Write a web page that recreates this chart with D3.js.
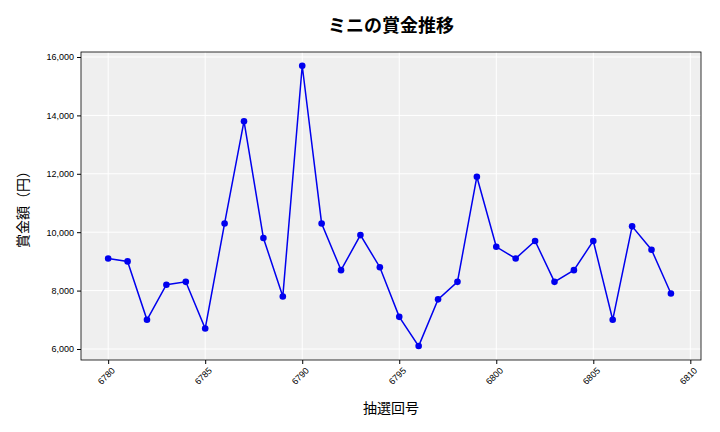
<!DOCTYPE html>
<html lang="ja">
<head>
<meta charset="UTF-8" />
<script src="https://d3js.org/d3.v7.min.js"></script>
<style>
  body { margin: 0; background: #fff; font-family: "Noto Sans CJK JP", "Noto Sans", sans-serif; }
</style>
</head>
<body>
<svg width="720" height="432"></svg>
<script>
  var draws = d3.range(6780, 6810);
  var prizes = [9100, 9000, 7000, 8200, 8300, 6700, 10300, 13800, 9800, 7800,
                15700, 10300, 8700, 9900, 8800, 7100, 6100, 7700, 8300, 11900,
                9500, 9100, 9700, 8300, 8700, 9700, 7000, 10200, 9400, 7900];
  var xTicks = [6780, 6785, 6790, 6795, 6800, 6805, 6810];
  var yTicks = [6000, 8000, 10000, 12000, 14000, 16000];

  var pLeft = 81, pRight = 701, pTop = 52, pBottom = 360;
  var svg = d3.select('svg');

  var x = d3.scaleLinear().domain([6778.6, 6810.55]).range([pLeft, pRight]);
  var y = d3.scaleLinear().domain([5623, 16171]).range([pBottom, pTop]);

  svg.append('rect').attr('x', pLeft).attr('y', pTop)
    .attr('width', pRight - pLeft).attr('height', pBottom - pTop).attr('fill', '#efefef');

  // grid
  svg.append('g').selectAll('line').data(xTicks).join('line')
    .attr('x1', d => x(d)).attr('x2', d => x(d)).attr('y1', pTop).attr('y2', pBottom)
    .attr('stroke', '#fff').attr('stroke-width', 1);
  svg.append('g').selectAll('line').data(yTicks).join('line')
    .attr('x1', pLeft).attr('x2', pRight).attr('y1', d => y(d)).attr('y2', d => y(d))
    .attr('stroke', '#fff').attr('stroke-width', 1);

  svg.append('rect').attr('x', pLeft).attr('y', pTop)
    .attr('width', pRight - pLeft).attr('height', pBottom - pTop)
    .attr('fill', 'none').attr('stroke', '#000').attr('stroke-width', 0.8);

  var xAxis = svg.append('g').attr('transform', 'translate(0,' + pBottom + ')')
    .call(d3.axisBottom(x).tickValues(xTicks).tickFormat(d3.format('d')).tickSize(4));
  xAxis.select('.domain').remove();
  xAxis.selectAll('text').attr('font-size', 9)
    .attr('transform', 'rotate(-45,0,8)')
    .attr('text-anchor', 'end').attr('dx', '0.3em').attr('dy', '0.9em');

  var yAxis = svg.append('g').attr('transform', 'translate(' + pLeft + ',0)')
    .call(d3.axisLeft(y).tickValues(yTicks).tickFormat(d3.format(',')).tickSize(4));
  yAxis.select('.domain').remove();
  yAxis.selectAll('text').attr('font-size', 9);

  var line = d3.line().x((d, i) => x(draws[i])).y(d => y(d));
  svg.append('path').datum(prizes).attr('d', line)
    .attr('fill', 'none').attr('stroke', '#0000ee').attr('stroke-width', 1.5);
  svg.append('g').selectAll('circle').data(prizes).join('circle')
    .attr('cx', (d, i) => x(draws[i])).attr('cy', d => y(d)).attr('r', 3.3)
    .attr('fill', '#0000ee');

  svg.append('text').attr('x', 391).attr('y', 32).attr('text-anchor', 'middle')
    .attr('font-size', 18).attr('font-weight', 'bold').text('ミニの賞金推移');
  svg.append('text').attr('x', 391).attr('y', 413).attr('text-anchor', 'middle')
    .attr('font-size', 14).text('抽選回号');
  svg.append('text').attr('transform', 'translate(28,206) rotate(-90)')
    .attr('text-anchor', 'middle').attr('font-size', 14).text('賞金額（円）');
</script>
</body>
</html>
